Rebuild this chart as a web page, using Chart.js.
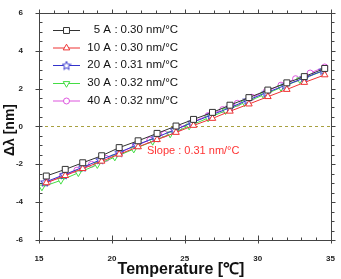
<!DOCTYPE html>
<html><head><meta charset="utf-8">
<script src="https://cdn.jsdelivr.net/npm/chart.js@4/dist/chart.umd.min.js"></script>
<style>html,body{margin:0;padding:0;background:#fff}#wrap{width:341px;height:279px}</style>
</head><body><div id="wrap"><canvas id="c" width="341" height="279"></canvas></div>
<script>
// ---- data ----
const seriesNames = ['5 A', '10 A', '20 A', '30 A', '40 A'];
const seriesSlopes = ['0.30 nm/°C', '0.30 nm/°C', '0.31 nm/°C', '0.32 nm/°C', '0.32 nm/°C'];
const x5  = [15.5,16.8,18.0,19.3,20.5,21.8,23.1,24.4,25.6,26.9,28.1,29.4,30.7,32.0,33.2,34.6];
const y5  = [-2.62,-2.27,-1.92,-1.55,-1.12,-0.76,-0.37,0.02,0.37,0.74,1.12,1.52,1.92,2.30,2.63,3.06];
const x10 = [15.5,16.8,18.0,19.3,20.5,21.8,23.1,24.4,25.6,26.9,28.1,29.4,30.7,32.0,33.2,34.6];
const y10 = [-2.98,-2.60,-2.23,-1.84,-1.47,-1.08,-0.70,-0.32,0.05,0.42,0.80,1.18,1.57,1.95,2.32,2.72];
const x20 = [15.4,16.7,18.0,19.2,20.5,21.7,23.0,24.3,25.5,26.8,28.1,29.3,30.6,31.9,33.2,34.5];
const y20 = [-2.95,-2.56,-2.16,-1.77,-1.38,-0.98,-0.59,-0.19,0.20,0.59,0.99,1.38,1.78,2.17,2.56,2.95];
const x30 = [15.2,16.5,17.7,19.0,20.2,21.5,22.8,24.0,25.3,26.6,27.8,29.1,30.4,31.6,32.9,34.5];
const y30 = [-3.20,-2.85,-2.45,-2.02,-1.62,-1.20,-0.79,-0.40,0.02,0.44,0.83,1.25,1.66,2.05,2.46,2.93];
const x40 = [15.6,16.6,17.6,18.6,19.6,20.6,21.6,22.6,23.6,24.6,25.6,26.6,27.6,28.6,29.6,30.6,31.6,32.6,33.6,34.6];
const y40 = [-2.95,-2.64,-2.31,-2.00,-1.69,-1.35,-1.04,-0.72,-0.40,-0.08,0.26,0.57,0.89,1.22,1.54,1.86,2.18,2.52,2.82,3.14];
const xTicks = [15, 20, 25, 30, 35];
const yTicks = [-6, -4, -2, 0, 2, 4, 6];
const slopeNote = 'Slope : 0.31 nm/°C';
const xTitle = 'Temperature [℃]';
const yTitle = 'Δλ [nm]';

const colors = ['#333333', '#ee3333', '#3333cc', '#44dd44', '#dd55dd'];

function starCanvas(color) {
  const c = document.createElement('canvas');
  c.width = 10; c.height = 10;
  const g = c.getContext('2d');
  g.beginPath();
  for (let i = 0; i < 10; i++) {
    const r = i % 2 === 0 ? 4.5 : 2;
    const a = -Math.PI / 2 + i * Math.PI / 5;
    const px = 5 + r * Math.cos(a), py = 5.3 + r * Math.sin(a);
    if (i === 0) g.moveTo(px, py); else g.lineTo(px, py);
  }
  g.closePath();
  g.fillStyle = '#fff'; g.fill();
  g.strokeStyle = color; g.lineWidth = 1; g.stroke();
  return c;
}
const star = starCanvas(colors[2]);

const styles = [
  {pointStyle: 'rect', pointRadius: 4.2, pointRotation: 0},
  {pointStyle: 'triangle', pointRadius: 3.8, pointRotation: 0},
  {pointStyle: star, pointRadius: 4, pointRotation: 0},
  {pointStyle: 'triangle', pointRadius: 3.8, pointRotation: 180},
  {pointStyle: 'circle', pointRadius: 3, pointRotation: 0}
];
const xs = [x5, x10, x20, x30, x40];
const ys = [y5, y10, y20, y30, y40];

const datasets = seriesNames.map((n, i) => ({
  label: n,
  data: xs[i].map((x, j) => ({x: x, y: ys[i][j]})),
  borderColor: colors[i],
  backgroundColor: '#ffffff',
  pointBorderColor: colors[i],
  pointBackgroundColor: '#ffffff',
  borderWidth: 1,
  pointBorderWidth: 1,
  pointStyle: styles[i].pointStyle,
  pointRadius: styles[i].pointRadius,
  pointRotation: styles[i].pointRotation,
  showLine: true,
  tension: 0
}));

const decor = {
  id: 'decor',
  beforeDatasetsDraw(chart) {
    const {ctx, chartArea: a, scales: {x, y}} = chart;
    ctx.save();
    const y0 = Math.round(y.getPixelForValue(0)) + 0.5;
    ctx.strokeStyle = '#a8a040';
    ctx.lineWidth = 1;
    ctx.setLineDash([3, 3]);
    ctx.beginPath(); ctx.moveTo(a.left, y0); ctx.lineTo(a.right, y0); ctx.stroke();
    ctx.restore();
  },
  afterDraw(chart) {
    const {ctx, chartArea: a, scales: {x, y}} = chart;
    ctx.save();
    ctx.strokeStyle = '#444';
    ctx.lineWidth = 1;
    const L = Math.round(a.left) + 0.5, R = Math.round(a.right) + 0.5;
    const T = Math.round(a.top) + 0.5, B = Math.round(a.bottom) + 0.5;
    ctx.strokeRect(L, T, R - L, B - T);
    ctx.beginPath();
    for (let v = 15; v <= 35; v += 1) {
      const px = Math.round(x.getPixelForValue(v)) + 0.5;
      const major = xTicks.includes(v);
      ctx.moveTo(px, B); ctx.lineTo(px, B - (major ? 5 : 3));
      if (major) { ctx.moveTo(px, B); ctx.lineTo(px, B + 3); }
      ctx.moveTo(px, T); ctx.lineTo(px, T - (major ? 4 : 3));
    }
    for (let k = -12; k <= 12; k++) {
      const v = k / 2;
      const py = Math.round(y.getPixelForValue(v)) + 0.5;
      const major = (k % 4 === 0);
      ctx.moveTo(L, py); ctx.lineTo(L + 3, py);
      if (major) { ctx.moveTo(L, py); ctx.lineTo(L - 4, py); }
      ctx.moveTo(R, py); ctx.lineTo(R + (major ? 4 : 3), py);
    }
    ctx.stroke();

    // legend
    const rows = [30, 47.5, 65, 83, 100.5];
    ctx.textBaseline = 'middle';
    chart.data.datasets.forEach((ds, i) => {
      const ry = rows[i] + 0.5;
      ctx.strokeStyle = colors[i];
      ctx.lineWidth = 1;
      ctx.beginPath(); ctx.moveTo(53, ry); ctx.lineTo(80, ry); ctx.stroke();
      ctx.fillStyle = '#ffffff';
      ctx.strokeStyle = colors[i];
      Chart.helpers.drawPoint(ctx, {
        pointStyle: ds.pointStyle, rotation: ds.pointRotation,
        radius: ds.pointRadius, borderWidth: 1
      }, 66.5, ry);
      ctx.fillStyle = '#111';
      ctx.font = '11.5px "Liberation Sans", Arial, sans-serif';
      ctx.textAlign = 'right';
      ctx.fillText(seriesNames[i], 111, rows[i]);
      ctx.textAlign = 'left';
      ctx.fillText(':', 114.5, rows[i]);
      ctx.fillText(seriesSlopes[i], 120.5, rows[i]);
    });

    // slope note
    ctx.fillStyle = '#ff3333';
    ctx.font = '11px "Liberation Sans", Arial, sans-serif';
    ctx.textAlign = 'left';
    ctx.fillText(slopeNote, 147, 151);

    // axis titles
    ctx.fillStyle = '#111';
    ctx.font = 'bold 16px "Liberation Sans", Arial, sans-serif';
    ctx.textAlign = 'center';
    ctx.fillText(xTitle, 181, 270);
    ctx.save();
    ctx.translate(10, 130);
    ctx.rotate(-Math.PI / 2);
    ctx.font = 'bold 14px "Liberation Sans", Arial, sans-serif';
    ctx.fillText(yTitle, 0, 0);
    ctx.restore();
    ctx.restore();
  }
};

new Chart(document.getElementById('c'), {
  type: 'scatter',
  data: {datasets},
  options: {
    responsive: false,
    animation: false,
    devicePixelRatio: 1,
    layout: {padding: {top: 12, right: 10, left: 0, bottom: 0}},
    plugins: {legend: {display: false}, tooltip: {enabled: false}},
    scales: {
      x: {
        type: 'linear', min: 15, max: 35,
        grid: {display: false},
        border: {display: false},
        afterFit(s) { s.height = 39; },
        afterBuildTicks(s) { s.ticks = xTicks.map(v => ({value: v})); },
        ticks: {padding: 6, color: '#222', font: {size: 8, weight: 'bold', family: '"Liberation Sans", Arial, sans-serif'}, maxRotation: 0}
      },
      y: {
        type: 'linear', min: -6, max: 6,
        grid: {display: false},
        border: {display: false},
        afterFit(s) { s.width = 39; },
        afterBuildTicks(s) { s.ticks = yTicks.map(v => ({value: v})); },
        ticks: {padding: 8, color: '#222', font: {size: 8, weight: 'bold', family: '"Liberation Sans", Arial, sans-serif'}}
      }
    }
  },
  plugins: [decor]
});
</script>
</body></html>
